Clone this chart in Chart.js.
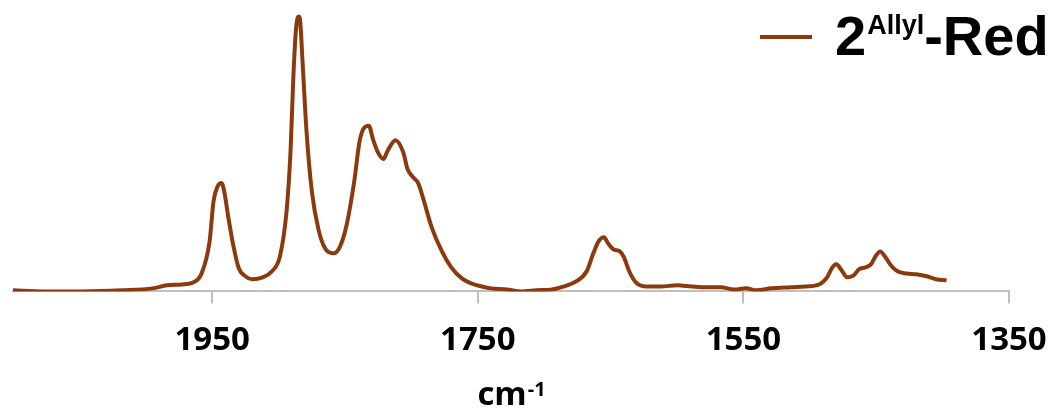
<!DOCTYPE html>
<html>
<head>
<meta charset="utf-8">
<script src="https://cdn.jsdelivr.net/npm/chart.js@4/dist/chart.umd.min.js"></script>
<style>
    html, body { margin: 0; padding: 0; background: #ffffff; }
    #wrap { width: 1055px; height: 412px; position: relative; }
</style>
</head>
<body>
<div id="wrap"><canvas id="irChart"></canvas></div>
<script>
// IR spectrum, wavenumber in cm-1, absorbance in arbitrary units
const wavenumbers = [
    2100, 2077, 2048, 2018, 1995, 1984, 1973, 1964, 1958, 1952,
    1949, 1946, 1943, 1941, 1938, 1934, 1930, 1925, 1920, 1912,
    1905, 1899, 1894, 1891, 1889, 1887, 1885, 1884, 1882, 1879,
    1875, 1870, 1865, 1859, 1854, 1849, 1843, 1839, 1835, 1832,
    1829, 1825, 1821, 1818, 1812, 1806, 1803, 1799, 1795,
    1791, 1785, 1777, 1770, 1762, 1755, 1747, 1740, 1728, 1717,
    1706, 1694, 1685, 1676, 1668, 1663, 1659, 1655, 1652, 1648,
    1643, 1640, 1636, 1631, 1623, 1612, 1600, 1589, 1578, 1567,
    1557, 1548, 1540, 1529, 1514, 1503, 1493, 1487, 1483, 1480,
    1476, 1472, 1467, 1463, 1458, 1454, 1450, 1447, 1443, 1439,
    1434, 1427, 1420, 1412, 1405, 1397
];
const absorbance = [
    0.004, 0.000, 0.000, 0.004, 0.011, 0.022, 0.025, 0.033, 0.065, 0.180,
    0.327, 0.380, 0.393, 0.364, 0.273, 0.164, 0.084, 0.055, 0.044, 0.051,
    0.073, 0.127, 0.291, 0.509, 0.764, 0.945, 0.996, 0.989, 0.836, 0.582,
    0.364, 0.225, 0.156, 0.138, 0.160, 0.236, 0.400, 0.545, 0.596, 0.600,
    0.553, 0.502, 0.480, 0.509, 0.548, 0.502, 0.444, 0.415, 0.393,
    0.335, 0.236, 0.145, 0.087, 0.047, 0.029, 0.018, 0.011, 0.007, 0.000,
    0.004, 0.007, 0.018, 0.036, 0.073, 0.138, 0.182, 0.196, 0.175, 0.153,
    0.145, 0.124, 0.073, 0.033, 0.018, 0.018, 0.022, 0.018, 0.015, 0.015,
    0.007, 0.011, 0.004, 0.011, 0.015, 0.018, 0.025, 0.051, 0.087, 0.098,
    0.076, 0.051, 0.058, 0.080, 0.087, 0.098, 0.131, 0.145, 0.124, 0.095,
    0.073, 0.065, 0.062, 0.055, 0.044, 0.040
];
const tickValues = [1950, 1750, 1550, 1350];
const seriesName = { base: "2", sup: "Allyl", tail: "-Red" };
const axisTitle = { base: "cm", sup: "-1" };

const lineColor = "#8B3A0E";
const axisColor = "#BFBFBF";

// legend and axis title need superscripts, so they are drawn by hand
const extraText = {
    id: "extraText",
    afterDraw(chart) {
        const ctx = chart.ctx;
        const area = chart.chartArea;
        ctx.save();
        ctx.fillStyle = "#000000";
        ctx.textBaseline = "alphabetic";

        // axis title, centred under the x axis
        ctx.font = "bold 33px 'Open Sans'";
        const wBase = ctx.measureText(axisTitle.base).width;
        ctx.font = "bold 20px 'Open Sans'";
        const wSup = ctx.measureText(axisTitle.sup).width;
        let x = (area.left + area.right) / 2 - (wBase + wSup) / 2;
        ctx.font = "bold 33px 'Open Sans'";
        ctx.fillText(axisTitle.base, x, 405);
        ctx.font = "bold 20px 'Open Sans'";
        ctx.fillText(axisTitle.sup, x + wBase + 1, 396);

        // legend in the top right corner
        ctx.strokeStyle = lineColor;
        ctx.lineWidth = 4;
        ctx.beginPath();
        ctx.moveTo(760, 37);
        ctx.lineTo(812, 37);
        ctx.stroke();
        x = 835;
        ctx.font = "bold 56px 'Liberation Sans'";
        ctx.fillText(seriesName.base, x, 55);
        x += ctx.measureText(seriesName.base).width + 1;
        ctx.font = "bold 27px 'Liberation Sans'";
        ctx.fillText(seriesName.sup, x, 34);
        x += ctx.measureText(seriesName.sup).width;
        ctx.font = "bold 56px 'Liberation Sans'";
        ctx.fillText(seriesName.tail, x, 55);
        ctx.restore();
    }
};

new Chart(document.getElementById("irChart").getContext("2d"), {
    type: "line",
    data: {
        datasets: [
            {
                label: seriesName.base + seriesName.sup + seriesName.tail,
                data: wavenumbers.map((w, i) => ({ x: w, y: absorbance[i] })),
                borderColor: lineColor,
                borderWidth: 4,
                pointRadius: 0,
                cubicInterpolationMode: "monotone",
                fill: false,
            },
        ]
    },
    options: {
        animation: false,
        responsive: true,
        maintainAspectRatio: false,
        layout: {
            padding: { left: 13, right: 46, top: 10, bottom: 35 }
        },
        scales: {
            x: {
                type: "linear",
                reverse: true,
                min: 1350,
                max: 2100,
                afterBuildTicks: (axis) => {
                    axis.ticks = tickValues.map((v) => ({ value: v }));
                },
                afterFit: (axis) => {
                    axis.paddingLeft = 0;
                    axis.paddingRight = 0;
                },
                grid: {
                    display: true,
                    drawOnChartArea: false,
                    drawTicks: true,
                    tickLength: 12,
                    color: axisColor,
                    lineWidth: 2,
                },
                border: {
                    display: true,
                    color: axisColor,
                    width: 2,
                },
                ticks: {
                    autoSkip: false,
                    maxRotation: 0,
                    padding: 17,
                    color: "#000000",
                    font: { family: "'Open Sans'", size: 33, weight: "bold" },
                    callback: (v) => v,
                }
            },
            y: {
                display: false,
                min: 0,
                max: 1.02,
            }
        },
        plugins: {
            legend: { display: false },
            tooltip: { enabled: false }
        }
    },
    plugins: [extraText]
});
</script>
</body>
</html>
